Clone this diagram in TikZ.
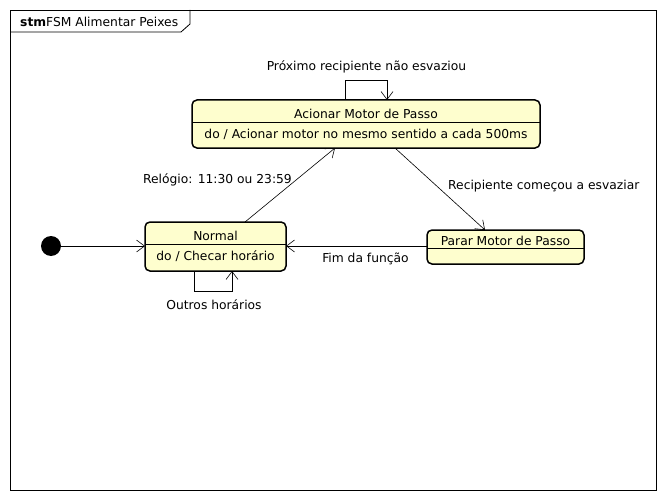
\documentclass[tikz,border=0pt]{standalone}
\usepackage{fontspec}
\setmainfont{DejaVu Sans}
\usetikzlibrary{arrows.meta}
\definecolor{stfill}{HTML}{FEFECE}
\tikzset{
  x=1pt,y=-1pt,
  every node/.style={font=\fontsize{12.3}{14}\selectfont, inner sep=0pt},
  statebox/.style={draw=black, line width=1.5pt, fill=stfill, rounded corners=5pt, minimum width=#1},
  trans/.style={draw=black, line width=0.6pt, -{Straight Barb[length=8pt,width=12pt,line width=0.6pt]}},
  lbl/.style={font=\fontsize{12.3}{14}\selectfont},
}
\begin{document}
\begin{tikzpicture}
\useasboundingbox (0,0) rectangle (666,500);
% frame
\draw[line width=0.8pt] (10,10) rectangle (656,490);
\draw[line width=0.8pt] (10,32) -- (181,32) -- (190,24) -- (190,10);
\node[anchor=west] (title) at (20,22) {\textbf{stm}FSM Alimentar Peixes};

% Acionar
\node[statebox=348pt, minimum height=48pt] (acionar) at (366,124) {};
\draw[line width=0.8pt] (192,122) -- (540,122);
\node (acT) at (366,113.5) {Acionar Motor de Passo};
\node (acB) at (366,134) {do / Acionar motor no mesmo sentido a cada 500ms};

% Normal
\node[statebox=141pt, minimum height=49pt] (normal) at (215.5,246.5) {};
\draw[line width=0.8pt] (145,244) -- (286,244);
\node (noT) at (215.5,235.5) {Normal};
\node (noB) at (215.5,256.5) {do / Checar horário};

% Parar
\node[statebox=157pt, minimum height=34pt] (parar) at (505.5,247) {};
\draw[line width=0.8pt] (427,248) -- (584,248);
\node (paT) at (505.5,241) {Parar Motor de Passo};

% initial
\node[circle, fill=black, minimum size=20pt] (init) at (51,246) {};

% coordinates
\coordinate (a1) at (345,100);
\coordinate (a2) at (387,100);
\coordinate (n1) at (194,271);
\coordinate (n2) at (232,271);
\coordinate (nTop) at (245,222);
\coordinate (aBotL) at (335,148);
\coordinate (aBotR) at (395,148);
\coordinate (pTop) at (485,230);
\coordinate (pL) at (427,246);
\coordinate (nR) at (286,246);
\coordinate (nL) at (145,246);

\draw[trans] (init.east) -- (nL);
\draw[trans] (a1) -- (345,80) -- (387,80) -- (a2);
\draw[trans] (n1) -- (194,291) -- (232,291) -- (n2);
\draw[trans] (nTop) -- (aBotL);
\draw[trans] (aBotR) -- (pTop);
\draw[trans] (pL) -- (nR);

% labels
\node[lbl] (l1) at (366.5,67) {Próximo recipiente não esvaziou};
\node[lbl, anchor=east] (l2) at (292,180) {Relógio: 11:30 ou 23:59};
\node[lbl, anchor=west] (l3) at (448,186) {Recipiente começou a esvaziar};
\node[lbl] (l4) at (365.5,259) {Fim da função};
\node[lbl] (l5) at (214,305) {Outros horários};
\end{tikzpicture}
\end{document}
